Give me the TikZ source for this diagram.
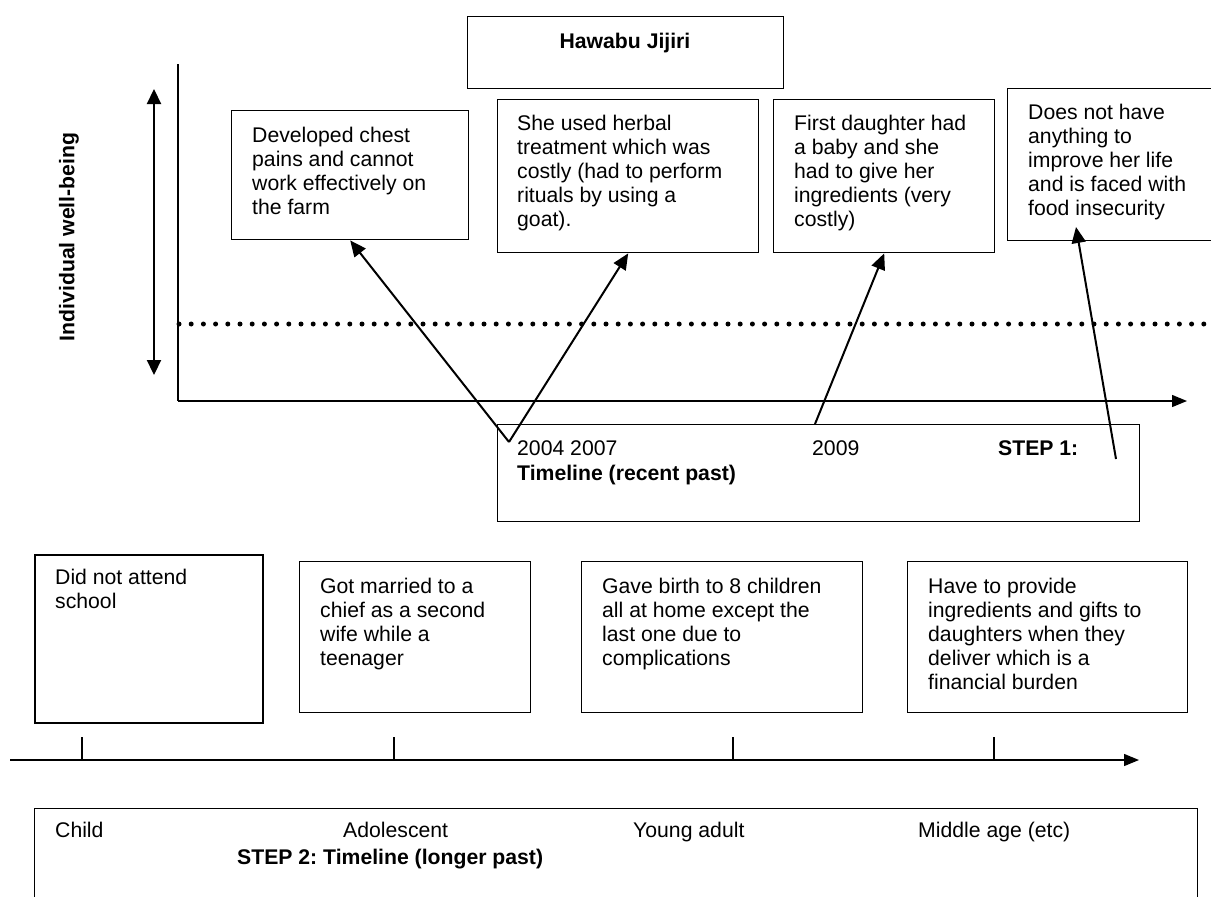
\documentclass[tikz,border=0pt]{standalone}
\usepackage{fontspec}
\setmainfont{Liberation Sans}
\usetikzlibrary{arrows.meta}
\newcommand\bodyfont{\fontsize{21.2}{24.2}\selectfont\frenchspacing}

\begin{document}
\begin{tikzpicture}[x=1pt,y=-1pt,
  box/.style={draw, line width=1.4pt, anchor=north west, inner sep=0pt},
  thickbox/.style={box, line width=2.2pt},
  txt/.style={anchor=north west, inner sep=0pt, align=left, font=\bodyfont},
  lbl/.style={anchor=base west, inner sep=0pt, font=\bodyfont},
  axisline/.style={line width=1.4pt},
  axistip/.style={-{Triangle[length=15pt,width=12pt]}},
  pointer/.style={line width=2pt, -{Triangle[length=16pt,width=14pt]}},
]
\useasboundingbox (0,0) rectangle (1211,897);
\clip (0,0) rectangle (1211,897);

% ---------- STEP 1: recent past ----------
\node[box, minimum width=316, minimum height=72] (title) at (467,16) {};
\node[lbl, anchor=base, font=\bodyfont\bfseries] (name) at (625,48) {Hawabu Jijiri};

% well-being axes
\coordinate (ytop) at (178,64);
\coordinate (origin) at (178,401);
\coordinate (xend) at (1187,401);
\draw[axisline] (ytop) -- (origin);
\draw[axisline, axistip] (origin) -- (xend);

\coordinate (wtop) at (154,89);
\coordinate (wbot) at (154,375);
\draw[line width=2.2pt, {Triangle[length=15pt,width=14pt]}-{Triangle[length=15pt,width=14pt]}] (wtop) -- (wbot);
\node[rotate=90, font=\bodyfont\bfseries, inner sep=0pt] (wb) at (69,237) {Individual well-being};

% average line
\coordinate (avgL) at (179,324);
\coordinate (avgR) at (1215,324);
\draw[line width=5pt, line cap=round, dash pattern=on 0pt off 12.2pt] (avgL) -- (avgR);

% event boxes
\node[box, minimum width=237, minimum height=129] (dev) at (231,110) {};
\node[txt] (devt) at (252,125) {\strut Developed chest\\pains and cannot\\work effectively on\\the farm};

\node[box, minimum width=261, minimum height=153] (she) at (497,99) {};
\node[txt] (shet) at (517,113) {\strut She used herbal\\treatment which was\\costly (had to perform\\rituals by using a\\goat).};

\node[box, minimum width=221, minimum height=153] (fd) at (773,99) {};
\node[txt] (fdt) at (794,113) {\strut First daughter had\\a baby and she\\had to give her\\ingredients (very\\costly)};

\node[box, minimum width=215, minimum height=152] (dn) at (1007,88) {};
\node[txt] (dnt) at (1028,102) {\strut Does not have\\anything to\\improve her life\\and is faced with\\food insecurity};

% recent timeline box
\node[box, minimum width=642, minimum height=97] (step1) at (497,424) {};
\node[lbl] (y0407) at (517,455) {2004 2007};
\node[lbl, font=\bodyfont\bfseries] (tl1) at (517,480) {Timeline (recent past)};
\node[lbl] (y09) at (812,455) {2009};
\node[lbl, font=\bodyfont\bfseries] (s1) at (998,455) {STEP 1:};

% pointers from the timeline to the events
\coordinate (v) at (509,442);
\coordinate (p09) at (815,424);
\coordinate (pfoot) at (1116,459);
\coordinate (phead) at (1076,227);
\draw[pointer] (v) -- (dev.south);
\draw[pointer] (v) -- (she.south);
\draw[pointer] (p09) -- (fd.south);
\draw[pointer] (pfoot) -- (phead);

% ---------- STEP 2: longer past ----------
\node[thickbox, minimum width=228, minimum height=168] (school) at (34,554) {};
\node[txt] (schoolt) at (55,567) {\strut Did not attend\\school};

\node[box, minimum width=231, minimum height=151] (married) at (299,561) {};
\node[txt] (marriedt) at (320,576) {\strut Got married to a\\chief as a second\\wife while a\\teenager};

\node[box, minimum width=281, minimum height=151] (birth) at (581,561) {};
\node[txt] (birtht) at (602,576) {\strut Gave birth to 8 children\\all at home except the\\last one due to\\complications};

\node[box, minimum width=280, minimum height=151] (gifts) at (907,561) {};
\node[txt] (giftst) at (928,576) {\strut Have to provide\\ingredients and gifts to\\daughters when they\\deliver which is a\\financial burden};

% life-course axis with stage ticks
\coordinate (lstart) at (10,760);
\coordinate (lend) at (1139,760);
\draw[axisline, axistip] (lstart) -- (lend);
\foreach \t/\x in {tA/82, tB/394, tC/733, tD/994} {
  \coordinate (\t) at (\x,760);
  \coordinate (\t top) at (\x,737);
  \draw[axisline] (\t top) -- (\t);
}

\node[box, minimum width=1163, minimum height=110] (step2) at (34,808) {};
\node[lbl] (child) at (55,837) {Child};
\node[lbl] (adol) at (343,837) {Adolescent};
\node[lbl] (young) at (633,837) {Young adult};
\node[lbl] (middle) at (918,837) {Middle age (etc)};
\node[lbl, font=\bodyfont\bfseries] (s2) at (237,864) {STEP 2: Timeline (longer past)};
\end{tikzpicture}
\end{document}
